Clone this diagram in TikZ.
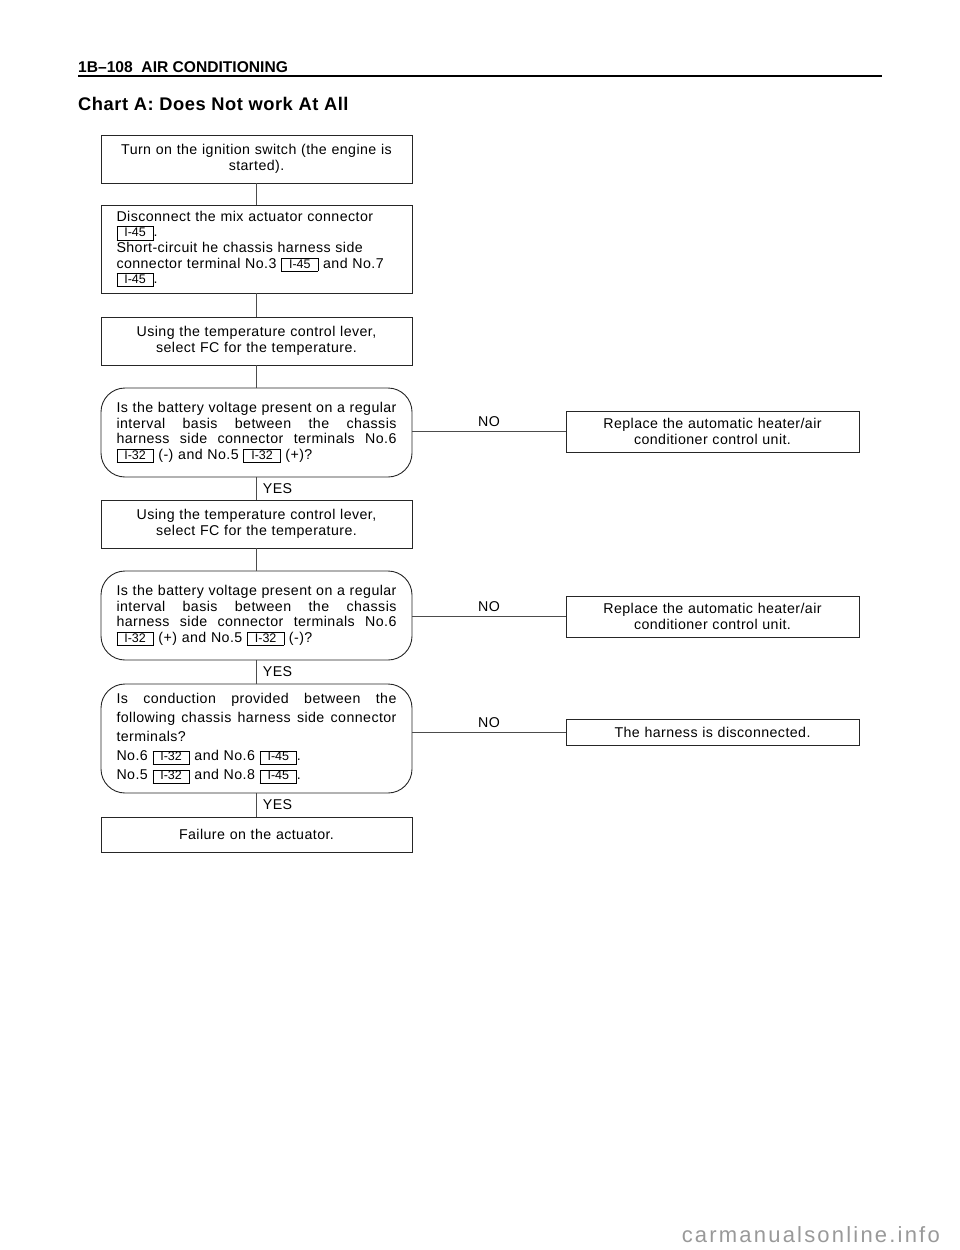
\documentclass[tikz,border=0pt]{standalone}
\usepackage{fontspec}
\setmainfont{Liberation Sans}[LetterSpace=3]
\newfontfamily\plainsans{Liberation Sans}
\newfontfamily\widesans{Liberation Sans}[LetterSpace=10]
\usetikzlibrary{positioning}
\setlength\fboxsep{1pt}
\setlength\fboxrule{0.6pt}
\newcommand\conn[1]{\fbox{\makebox[34pt]{\rule[-1.8pt]{0pt}{10.6pt}\fontsize{12.5pt}{12.5pt}\selectfont\plainsans #1}}}
\newcommand\jl[1]{\leavevmode\hbox to 280pt{\spaceskip=0.3em plus 1fil\relax #1}}
\tikzset{
  stepbox/.style={draw=black!85, line width=0.9pt, minimum width=311pt, text width=280pt, inner xsep=15.5pt, inner ysep=0pt, font=\fontsize{14.2pt}{15.6pt}\selectfont},
  askbox/.style={stepbox, rounded corners=24pt},
  resbox/.style={draw=black!85, line width=0.9pt, minimum width=293pt, text width=270pt, inner xsep=11.5pt, inner ysep=0pt, align=center, font=\fontsize{14.2pt}{15.6pt}\selectfont},
  link/.style={draw=black!70, line width=0.8pt},
  lab/.style={font=\fontsize{14.2pt}{15pt}\selectfont, inner sep=0pt}
}
\begin{document}
\begin{tikzpicture}[x=1pt,y=-1pt]
\useasboundingbox (0,0) rectangle (960,1250);
% header
\node[anchor=base west, inner sep=0pt, font=\plainsans\bfseries\fontsize{15.6pt}{16pt}\selectfont] (hdr) at (78,72) {1B–108\ \ AIR CONDITIONING};
\draw[line width=1.8pt] (78,76) coordinate (hl) -- (882,76) coordinate (hr);
\node[anchor=base west, inner sep=0pt, font=\bfseries\fontsize{18.3pt}{20pt}\selectfont] (title) at (78,110) {Chart A: Does Not work At All};
% main column
\node[stepbox, align=center, minimum height=48pt] (b1) at (256.5,159) {Turn on the ignition switch (the engine is\\ started).};
\node[stepbox, align=left, minimum height=88pt] (b2) at (256.5,249) {Disconnect the mix actuator connector\\ \conn{I-45}.\\ Short-circuit he chassis harness side\\ connector terminal No.3 \conn{I-45} and No.7\\ \conn{I-45}.};
\node[stepbox, align=center, minimum height=48pt] (b3) at (256.5,341) {Using the temperature control lever,\\ select FC for the temperature.};
\node[askbox, align=left, minimum height=89pt] (d1) at (256.5,432.5) {\jl{Is the battery voltage present on a regular}\\ \jl{interval basis between the chassis}\\ \jl{harness side connector terminals No.6}\\ \conn{I-32} (-) and No.5 \conn{I-32} (+)?};
\node[stepbox, align=center, minimum height=48pt] (b4) at (256.5,524) {Using the temperature control lever,\\ select FC for the temperature.};
\node[askbox, align=left, minimum height=89pt] (d2) at (256.5,615.5) {\jl{Is the battery voltage present on a regular}\\ \jl{interval basis between the chassis}\\ \jl{harness side connector terminals No.6}\\ \conn{I-32} (+) and No.5 \conn{I-32} (-)?};
\node[askbox, align=left, minimum height=109pt, font=\fontsize{14.2pt}{19pt}\selectfont] (d3) at (256.5,738.5) {\jl{Is conduction provided between the}\\ \jl{following chassis harness side connector}\\ terminals?\\ No.6 \conn{I-32} and No.6 \conn{I-45}.\\ No.5 \conn{I-32} and No.8 \conn{I-45}.};
\node[stepbox, align=center, minimum height=35pt] (b5) at (256.5,834.5) {Failure on the actuator.};
% right column
\node[resbox, minimum height=41pt] (r1) at (712.5,431.5) {Replace the automatic heater/air\\ conditioner control unit.};
\node[resbox, minimum height=41pt] (r2) at (712.5,616.5) {Replace the automatic heater/air\\ conditioner control unit.};
\node[resbox, minimum height=26pt] (r3) at (712.5,732) {The harness is disconnected.};
% connectors
\path[link] (b1) -- (b2);
\path[link] (b2) -- (b3);
\path[link] (b3) -- (d1);
\path[link] (d1) -- node[lab, right=6pt, pos=0.5] (y1) {YES} (b4);
\path[link] (b4) -- (d2);
\path[link] (d2) -- node[lab, right=6pt, pos=0.5] (y2) {YES} (d3);
\path[link] (d3) -- node[lab, right=6pt, pos=0.5] (y3) {YES} (b5);
\path[link] (r1.west -| d1.east) -- node[lab, above=4pt, pos=0.5] (n1) {NO} (r1.west);
\path[link] (r2.west -| d2.east) -- node[lab, above=4pt, pos=0.5] (n2) {NO} (r2.west);
\path[link] (r3.west -| d3.east) -- node[lab, above=4pt, pos=0.5] (n3) {NO} (r3.west);
% watermark
\node[anchor=base east, inner sep=0pt, text=black!40, font=\widesans\fontsize{22pt}{23pt}\selectfont] (wm) at (940,1242) {carmanualsonline.info};
\end{tikzpicture}
\end{document}
